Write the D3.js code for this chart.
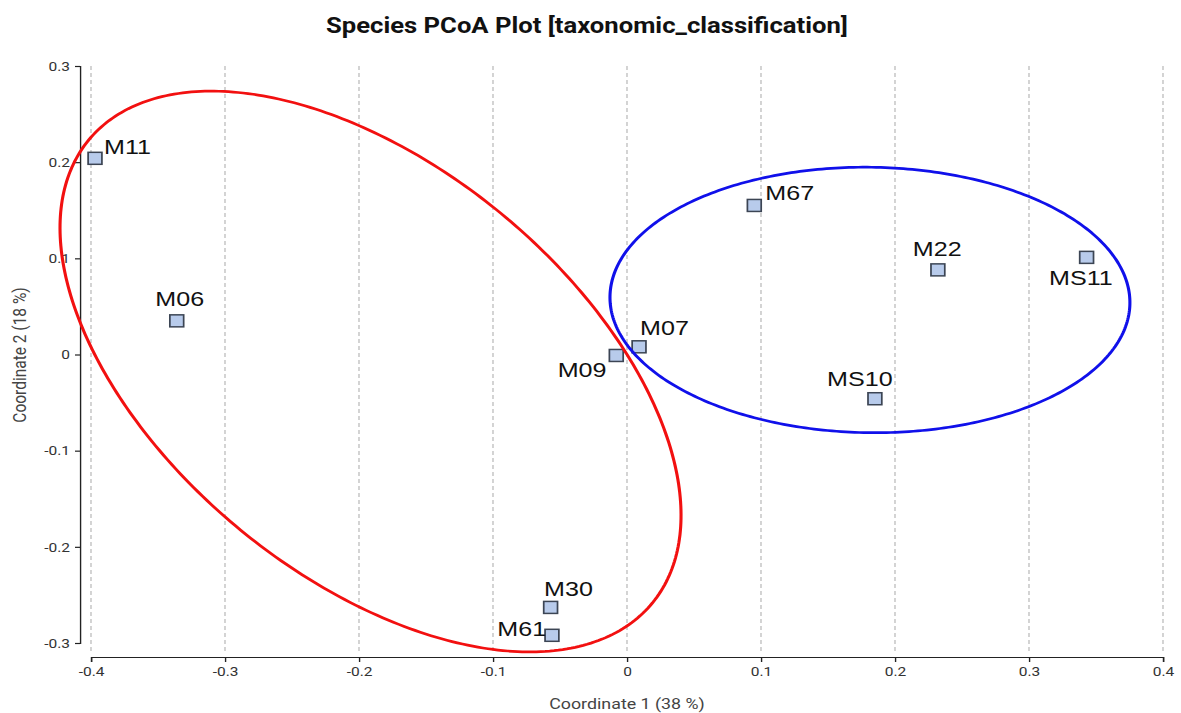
<!DOCTYPE html>
<html>
<head>
<meta charset="utf-8">
<script src="https://cdn.jsdelivr.net/npm/d3@7"></script>
<style>
  html, body { margin: 0; padding: 0; background: #ffffff; }
  svg { display: block; }
</style>
</head>
<body>
<svg id="chart"></svg>
<script>
// ---- data ----
const samples = ["M11", "M06", "M09", "M07", "M30", "M61", "M67", "M22", "MS11", "MS10"];
const coord1  = [-0.397, -0.336, -0.008, 0.009, -0.057, -0.056, 0.095, 0.232, 0.343, 0.185];
const coord2  = [ 0.204,  0.035, -0.001, 0.008, -0.263, -0.292, 0.155, 0.088, 0.101, -0.046];

const xTicks = [-0.4, -0.3, -0.2, -0.1, 0, 0.1, 0.2, 0.3, 0.4];
const yTicks = [-0.3, -0.2, -0.1, 0, 0.1, 0.2, 0.3];

// group ellipses: centre and two conjugate semi-axis vectors, in coordinate units
const ellipseCenter = [[-0.1914, -0.0177], [0.1813, 0.0567]];
const ellipseAxisA  = [[ 0.2104, -0.2406], [0.1940, -0.0036]];
const ellipseAxisB  = [[-0.0971, -0.1647], [-0.0013, -0.1380]];

const titleText = "Species PCoA Plot [taxonomic_classification]";
const xTitle = "Coordinate 1 (38 %)";
const yTitle = "Coordinate 2 (18 %)";

// ---- layout & style ----
const W = 1181, H = 713;
const SX = 1.15;                       // horizontal stretch of the whole drawing
const VW = W / SX;
const px = v => v / SX;                // screen pixels -> drawing units (horizontal)

const ellipseColors = ["#f21010", "#1010ea"];

// label placement relative to each marker: [anchor, dx(px), dy(px)]
const labelPlace = {
  M11:  ["start",   9.0,  -4.7],
  M06:  ["middle",  3.0, -15.0],
  M09:  ["end",    -9.8,  21.6],
  M07:  ["start",   1.0, -11.7],
  M30:  ["start",  -6.5, -11.0],
  M61:  ["end",    -5.8,   0.3],
  M67:  ["start",  11.0,  -5.0],
  M22:  ["middle", -0.6, -14.0],
  MS11: ["middle", -5.7,  27.7],
  MS10: ["middle",-15.0, -12.6]
};

const svg = d3.select("#chart")
  .attr("width", W).attr("height", H)
  .attr("viewBox", `0 0 ${VW} ${H}`)
  .attr("preserveAspectRatio", "none");

const x = d3.scaleLinear().domain([-0.4, 0.4]).range([px(91), px(1163)]);
const y = d3.scaleLinear().domain([-0.3, 0.3]).range([643, 66]);

const fmt = d => d === 0 ? "0" : String(+d.toFixed(1));

// vertical dashed grid
svg.append("g").selectAll("line").data(xTicks).join("line")
  .attr("x1", d => x(d)).attr("x2", d => x(d))
  .attr("y1", 66).attr("y2", 651)
  .attr("stroke", "#b4b4b4").attr("stroke-width", 1)
  .attr("stroke-dasharray", "4,3");

// axes
const yAxis = svg.append("g")
  .attr("transform", `translate(${px(80)},0)`)
  .call(d3.axisLeft(y).tickValues(yTicks).tickFormat(fmt).tickSize(px(5)).tickPadding(px(5)));
const xAxis = svg.append("g")
  .attr("transform", `translate(0,657)`)
  .call(d3.axisBottom(x).tickValues(xTicks).tickFormat(fmt).tickSize(5).tickPadding(4));

[yAxis, xAxis].forEach(g => {
  g.select(".domain").attr("stroke", "#222").attr("stroke-width", 1.2);
  g.selectAll(".tick line").attr("stroke", "#222").attr("stroke-width", 1.2);
  g.selectAll(".tick text")
    .attr("fill", "#333")
    .style("font-family", "Roboto, 'Open Sans', sans-serif")
    .style("font-size", "13.5px");
});

// markers
const pts = samples.map((s, i) => ({ name: s, cx: coord1[i], cy: coord2[i] }));
const ms = 12;
svg.append("g").selectAll("rect").data(pts).join("rect")
  .attr("x", d => x(d.cx) - ms / 2)
  .attr("y", d => y(d.cy) - ms / 2)
  .attr("width", ms).attr("height", ms)
  .attr("fill", "#b8cbeb")
  .attr("stroke", "#3c4554").attr("stroke-width", 1.5);

// group ellipses
const line = d3.line().x(p => x(p[0])).y(p => y(p[1])).curve(d3.curveLinearClosed);
ellipseCenter.forEach((c, k) => {
  const a = ellipseAxisA[k], b = ellipseAxisB[k];
  const ring = d3.range(0, 360, 1).map(deg => {
    const t = deg * Math.PI / 180;
    return [c[0] + a[0] * Math.cos(t) + b[0] * Math.sin(t),
            c[1] + a[1] * Math.cos(t) + b[1] * Math.sin(t)];
  });
  svg.append("path")
    .attr("d", line(ring))
    .attr("fill", "none")
    .attr("stroke", ellipseColors[k])
    .attr("stroke-width", 2.7);
});

// sample labels
const LX = 1.12;
svg.append("g").selectAll("text").data(pts).join("text")
  .attr("transform", d => {
    const p = labelPlace[d.name];
    return `translate(${x(d.cx) + px(p[1])},${y(d.cy) + p[2]}) scale(${LX},1)`;
  })
  .attr("text-anchor", d => labelPlace[d.name][0])
  .attr("fill", "#111")
  .style("font-family", "'Liberation Sans', Arial, sans-serif")
  .style("font-size", "19.5px")
  .text(d => d.name);

// titles
svg.append("text")
  .attr("x", px(587)).attr("y", 33)
  .attr("text-anchor", "middle")
  .attr("fill", "#111")
  .style("font-family", "Roboto, 'Open Sans', sans-serif")
  .style("font-weight", "700")
  .style("font-size", "22.3px")
  .text(titleText);

svg.append("text")
  .attr("x", px(627)).attr("y", 709)
  .attr("text-anchor", "middle")
  .attr("fill", "#444")
  .style("font-family", "Roboto, 'Open Sans', sans-serif")
  .style("font-size", "15.5px")
  .text(xTitle);

svg.append("text")
  .attr("transform", `translate(${px(26)},355) rotate(-90)`)
  .attr("text-anchor", "middle")
  .attr("fill", "#444")
  .style("font-family", "Roboto, 'Open Sans', sans-serif")
  .style("font-size", "15.5px")
  .text(yTitle);
</script>
</body>
</html>
